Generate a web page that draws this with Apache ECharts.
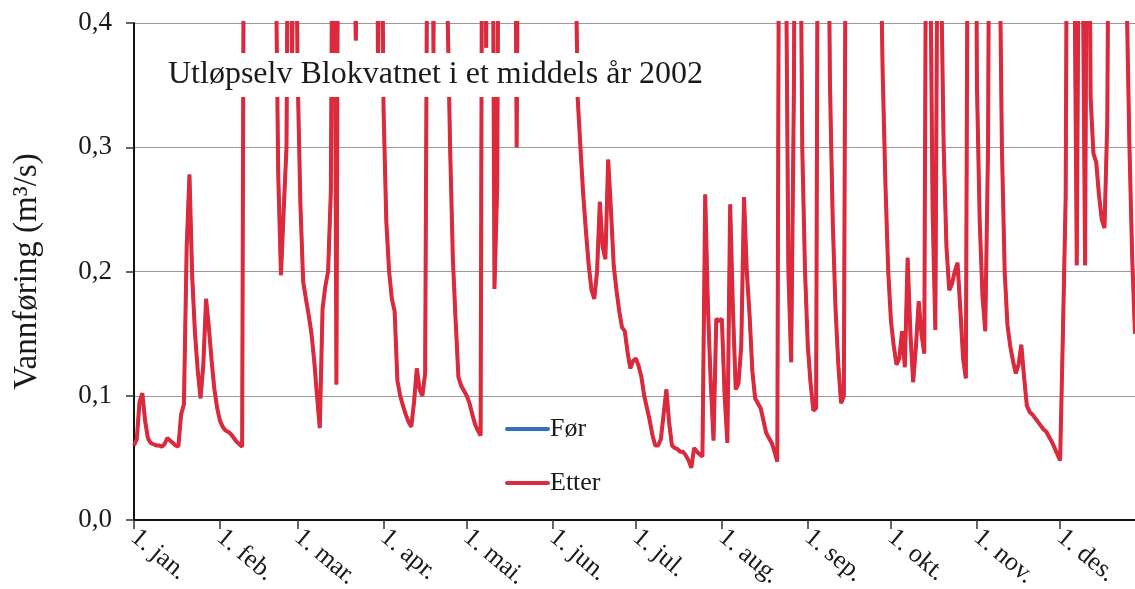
<!DOCTYPE html>
<html>
<head>
<meta charset="utf-8">
<script src="https://cdn.jsdelivr.net/npm/echarts@6/dist/echarts.min.js"></script>
<style>
  html, body { margin: 0; padding: 0; background: #fff; }
  #chart { width: 1135px; height: 589px; }
</style>
</head>
<body>
<div id="chart"></div>
<script>
// Daily discharge (m3/s), 1 Jan - 28 Dec 2002 (values above 0.4 are off-scale)
const jan = [0.060,0.065,0.095,0.102,0.080,0.066,0.062,0.061,0.060,0.060,0.059,0.061,0.066,0.064,0.062,0.060,0.059,0.085,0.093,0.220,0.278,0.195,0.150,0.120,0.098,0.125,0.178,0.155,0.128,0.105,0.090];
const feb = [0.080,0.075,0.072,0.071,0.069,0.066,0.063,0.061,0.059,0.80,1.00,1.10,1.00,0.90,0.85,0.80,0.75,0.70,0.65,0.60,0.48,0.28,0.197,0.25,0.30,0.70,0.36,0.62];
const mar = [0.360,0.255,0.192,0.178,0.165,0.150,0.128,0.100,0.074,0.170,0.188,0.200,0.265,0.70,0.109,0.80,0.90,0.80,0.70,0.60,0.50,0.386,0.60,0.80,0.90,0.80,0.70,0.70,0.80,0.36,0.60];
const apr = [0.330,0.240,0.200,0.178,0.168,0.112,0.100,0.092,0.085,0.079,0.075,0.095,0.122,0.105,0.100,0.118,0.60,0.80,0.375,0.80,0.90,0.80,0.60,0.42,0.30,0.21,0.16,0.115,0.108,0.104];
const may = [0.100,0.094,0.085,0.077,0.072,0.068,0.90,0.38,0.80,0.70,0.186,0.270,0.80,0.90,1.00,0.90,0.80,0.70,0.300,0.70,0.80,0.90,0.80,0.75,0.70,0.70,0.65,0.60,0.60,0.55,0.55];
const jun = [0.60,0.65,0.70,0.65,0.60,0.60,0.55,0.55,0.50,0.340,0.300,0.262,0.232,0.205,0.185,0.178,0.200,0.256,0.220,0.210,0.290,0.250,0.205,0.185,0.168,0.155,0.152,0.135,0.122,0.128];
const jul = [0.130,0.124,0.115,0.100,0.090,0.080,0.068,0.060,0.060,0.065,0.085,0.105,0.078,0.060,0.058,0.057,0.055,0.055,0.052,0.048,0.042,0.058,0.055,0.053,0.051,0.262,0.170,0.110,0.064,0.162,0.160];
const aug = [0.162,0.100,0.062,0.254,0.170,0.105,0.110,0.140,0.260,0.200,0.165,0.120,0.098,0.094,0.090,0.080,0.070,0.066,0.062,0.055,0.047,0.80,0.90,0.50,0.200,0.127,0.35,0.90,0.60,0.30,0.20];
const sep = [0.140,0.110,0.088,0.090,0.80,1.00,0.90,0.60,0.350,0.240,0.170,0.125,0.094,0.100,0.70,1.00,1.10,1.00,0.90,0.90,0.80,0.75,0.70,0.65,0.60,0.55,0.50,0.360,0.270,0.200];
const okt = [0.160,0.140,0.125,0.130,0.152,0.123,0.211,0.150,0.111,0.140,0.176,0.150,0.134,0.70,0.50,0.250,0.153,0.60,0.45,0.30,0.22,0.185,0.190,0.200,0.207,0.170,0.130,0.114,0.70,0.90,0.80];
const nov = [0.350,0.240,0.180,0.152,0.300,0.80,0.90,0.70,0.50,0.300,0.200,0.157,0.140,0.128,0.118,0.125,0.141,0.115,0.092,0.087,0.085,0.082,0.079,0.076,0.073,0.071,0.067,0.063,0.058,0.053];
const des = [0.048,0.150,0.260,0.80,0.90,0.50,0.205,0.60,0.50,0.205,0.70,0.340,0.295,0.288,0.262,0.242,0.235,0.320,0.70,0.90,0.80,0.70,0.60,0.50,0.42,0.30,0.21,0.150];

const etter = [].concat(jan, feb, mar, apr, may, jun, jul, aug, sep, okt, nov, des);
const foer = etter; // the "Før" curve is fully hidden under "Etter" in the picture

const tickLabels = ['1. jan.','1. feb.','1. mar.','1. apr.','1. mai.','1. jun.','1. jul.','1. aug.','1. sep.','1. okt.','1. nov.','1. des.'];
const monthStartDays = [0,31,59,90,120,151,181,212,243,273,304,334];
const yTicks = [0, 0.1, 0.2, 0.3, 0.4];

const days = etter.map((_, i) => String(i));
const serif = 'Liberation Serif';

const chart = echarts.init(document.getElementById('chart'), null, { renderer: 'canvas' });
chart.setOption({
  animation: false,
  backgroundColor: '#ffffff',
  title: {
    text: 'Utløpselv Blokvatnet i et middels år 2002',
    left: 160, top: 53,
    padding: [6, 8],
    backgroundColor: '#ffffff',
    textStyle: { fontFamily: serif, fontSize: 32, fontWeight: 'normal', color: '#1a1a1a' }
  },
  legend: {
    orient: 'vertical',
    left: 500, top: 411,
    itemWidth: 45, itemHeight: 14, itemGap: 28,
    icon: 'path://M2,0 L43,0 A2,2 0 0 1 43,4 L2,4 A2,2 0 0 1 2,0 Z',
    textStyle: { fontFamily: serif, fontSize: 26, color: '#1a1a1a', padding: [0,0,0,-5] },
    data: [
      { name: 'Før', itemStyle: { color: '#2f72b8' } },
      { name: 'Etter', itemStyle: { color: '#dc2a3c' } }
    ]
  },
  grid: { left: 134, right: 0, top: 23, bottom: 69, containLabel: false, outerBoundsMode: 'none' },
  xAxis: {
    type: 'category',
    data: days,
    boundaryGap: false,
    axisLine: { show: true, lineStyle: { color: '#111', width: 2 } },
    axisTick: {
      show: true, length: 9,
      interval: (i) => monthStartDays.includes(i),
      lineStyle: { color: '#333', width: 1.5 }
    },
    axisLabel: {
      interval: (i) => monthStartDays.includes(i),
      formatter: (v, i) => tickLabels[monthStartDays.indexOf(Number(v))] || '',
      rotate: -40,
      margin: 14,
      fontFamily: serif, fontSize: 26, color: '#1a1a1a'
    },
    splitLine: { show: false }
  },
  yAxis: {
    type: 'value',
    min: yTicks[0], max: yTicks[yTicks.length - 1], interval: 0.1,
    name: 'Vannføring (m³/s)',
    nameLocation: 'middle',
    nameGap: 90,
    nameTextStyle: { fontFamily: serif, fontSize: 33, color: '#1a1a1a' },
    axisLine: { show: true, lineStyle: { color: '#111', width: 2 } },
    axisTick: { show: true, length: 8, lineStyle: { color: '#333', width: 1.5 } },
    axisLabel: {
      margin: 22,
      formatter: (v) => v.toFixed(1).replace('.', ','),
      fontFamily: serif, fontSize: 27, color: '#1a1a1a'
    },
    splitLine: { show: true, lineStyle: { color: '#9a9a9a', width: 1.2 } }
  },
  series: [
    {
      name: 'Før', type: 'line', data: foer, symbol: 'none', clip: true, z: 2,
      lineStyle: { color: '#2f72b8', width: 3 }, itemStyle: { color: '#2f72b8' }
    },
    {
      name: 'Etter', type: 'line', data: etter, symbol: 'none', clip: true, z: 3,
      lineStyle: { color: '#dc2a3c', width: 4 }, itemStyle: { color: '#dc2a3c' }
    }
  ]
});
</script>
</body>
</html>
